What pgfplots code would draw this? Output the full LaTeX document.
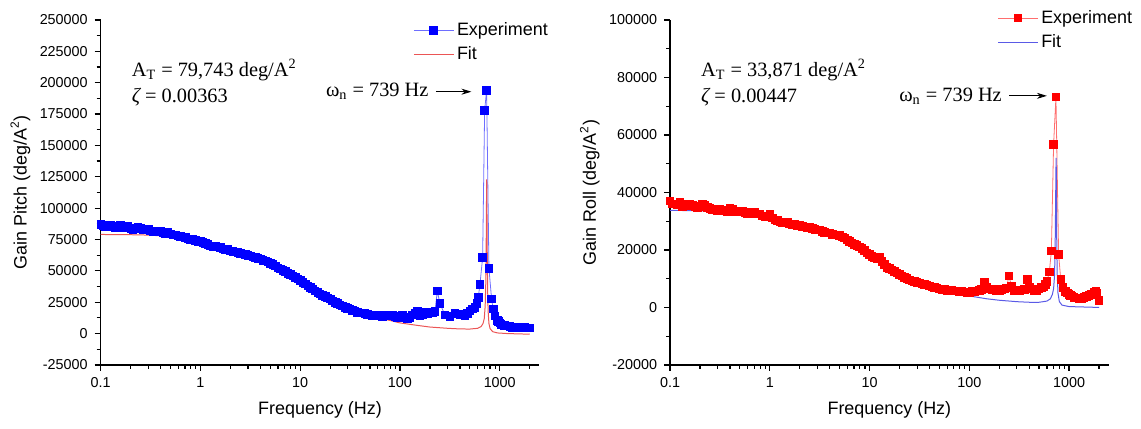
\documentclass[border=0pt]{standalone}
\usepackage{fontspec}
\setmainfont{Liberation Sans}
\newfontfamily\tnr{Liberation Serif}
\usepackage{pgfplots}
\pgfplotsset{compat=1.18}
\usetikzlibrary{arrows.meta}
\definecolor{expblue}{RGB}{0,0,255}
\definecolor{explineblue}{RGB}{110,110,255}
\definecolor{fitred}{RGB}{235,85,85}
\definecolor{expred}{RGB}{255,0,0}
\definecolor{explinered}{RGB}{255,110,110}
\definecolor{fitblue}{RGB}{90,90,230}

\begin{document}
\begin{tikzpicture}
\path (-50.5pt,-32pt) rectangle (520pt,183pt);

% ---------------- pitch ----------------
\begin{axis}[at={(0pt,0pt)},
  scale only axis, width=220pt, height=173pt,
  xmode=log, xmin=0.1, xmax=2500,
  xtick={0.1,1,10,100,1000},
  xticklabels={0.1,1,10,100,1000},
  minor xtick={0.2,0.3,0.4,0.5,0.6,0.7,0.8,0.9,2,3,4,5,6,7,8,9,20,30,40,50,60,70,80,90,200,300,400,500,600,700,800,900,2000},
  axis x line*=bottom, axis y line*=left,
  axis line style={line width=0.7pt},
  tick align=outside,
  major tick length=3pt, minor tick length=2pt,
  tick style={black, line width=0.6pt},
  minor y tick num=1, scaled y ticks=false,
  tick label style={font=\fontsize{7.2}{8}\selectfont},
  label style={font=\fontsize{9}{10}\selectfont},
  xlabel={Frequency (Hz)},
  xlabel style={at={(rel axis cs:0.5,-0.13)}, anchor=center},
  ylabel style={at={(rel axis cs:-0.183,0.5)}, anchor=center},
  legend style={draw=none, fill=none, anchor=north west,
    font=\fontsize{9}{10}\selectfont, row sep=1pt,
    nodes={inner sep=1.5pt}, at={(rel axis cs:0.698,1.015)}},
  legend cell align=left,
  legend image code/.code={\draw[mark repeat=2,mark phase=2,#1]
    plot coordinates {(0cm,0cm) (0.35cm,0cm) (0.7cm,0cm)};},
  ymin=-25000, ymax=250000,
  ytick={-25000,0,25000,50000,75000,100000,125000,150000,175000,200000,225000,250000},
  yticklabels={-25000,0,25000,50000,75000,100000,125000,150000,175000,200000,225000,250000},
  ylabel={Gain Pitch (deg/A\textsuperscript{2})},
]
\addplot[color=explineblue, line width=0.4pt, mark=square*, mark size=1.9pt,
  mark options={draw=expblue, fill=expblue}]
coordinates {
(0.1,87000) (0.106,86000) (0.112,85500) (0.119,86500) (0.126,86000)
(0.133,85000) (0.141,84500) (0.15,85500) (0.158,86500) (0.168,84500)
(0.178,85000) (0.188,85500) (0.2,84000) (0.211,83000) (0.224,83500)
(0.237,84500) (0.251,84000) (0.266,83000) (0.282,82500) (0.299,83500)
(0.316,82000) (0.335,81500) (0.355,81000) (0.376,82000) (0.398,81500)
(0.422,80500) (0.447,80000) (0.473,80500) (0.501,79500) (0.531,78500)
(0.562,78500) (0.596,78000) (0.631,77500) (0.668,77000) (0.708,76500)
(0.75,75500) (0.794,75000) (0.841,75500) (0.891,74500) (0.944,73500)
(1,73500) (1.06,72500) (1.12,72000) (1.19,71000) (1.26,70000)
(1.33,69000) (1.41,69500) (1.5,69000) (1.58,68500) (1.68,67500)
(1.78,67000) (1.88,67000) (2,66000) (2.11,65500) (2.24,65000)
(2.37,64500) (2.51,64000) (2.66,63500) (2.82,63000) (2.99,62500)
(3.16,62000) (3.35,61000) (3.55,60500) (3.76,60000) (3.98,59500)
(4.22,58500) (4.47,58000) (4.73,57000) (5.01,56000) (5.31,55000)
(5.62,54000) (5.96,52500) (6.31,51500) (6.68,50500) (7.08,49500)
(7.5,48000) (7.94,47000) (8.41,46000) (8.91,45000) (9.44,43500)
(10,42500) (10.6,41000) (11.2,39500) (11.9,38000) (12.6,37000)
(13.3,35500) (14.1,34000) (15,33000) (15.8,31500) (16.8,30500)
(17.8,29500) (18.8,28500) (20,27500) (21.1,26000) (22.4,25000)
(23.7,24000) (25.1,23000) (26.6,22000) (28.2,21000) (29.9,20000)
(31.6,19500) (33.5,18500) (35.5,18000) (37.6,17000) (39.8,16500)
(42.2,16500) (44.7,16000) (47.3,15500) (50.1,15000) (53.1,14500)
(56.2,14500) (59.6,15000) (63.1,14000) (66.8,13500) (70.8,14500)
(75,14000) (79.4,14000) (84.1,15000) (89.1,13500) (94.4,13000)
(100,14000) (106,14500) (112,12500) (119,12000) (126,13000)
(133,15000) (141,16000) (150,18000) (158,14500) (168,15500)
(178,17000) (188,16000) (200,16500) (211,17000) (224,17500)
(237,34000) (251,24000) (282,15000) (316,13500) (355,16000)
(398,15500) (447,14000) (473,16000) (501,18000) (531,19500)
(562,21000) (590,24000) (610,29000) (634,39400) (674,60600)
(706,177900) (739,193800) (780,51800) (829,27500) (860,19500)
(891,14000) (944,10500) (970,9500) (1000,8500) (1030,7500)
(1060,7000) (1120,6500) (1190,6000) (1260,5500) (1330,5000)
(1410,5000) (1500,4800) (1580,4500) (1680,5200) (1780,5000)
(1880,4500) (2000,4500)
};
\addlegendentry{Experiment}
\addplot[color=fitred, line width=0.5pt, mark=none]
coordinates {
(0.1,79000) (0.2,78800) (0.3,78500) (0.5,77500) (0.7,76000)
(1,74000) (1.5,71000) (2,68500) (3,64500) (5,57500) (7,51500)
(10,44000) (15,35000) (20,29000) (30,21500) (40,17500) (50,15000)
(70,11500) (100,8500) (150,6500) (200,5200) (300,4200) (400,3700)
(500,3600) (600,4200) (650,5500) (680,8000) (700,12000) (715,22000)
(725,40000) (732,70000) (737,105000) (741,123000) (745,100000)
(750,65000) (757,35000) (765,18000) (780,8000) (800,4000) (850,1500)
(950,500) (1200,0) (2000,-500)
};
\addlegendentry{Fit}
\node[font=\tnr\fontsize{10.2}{12}\selectfont, anchor=west, inner sep=0pt]
  at (rel axis cs:0.07,0.855) {A\textsubscript{T} = 79,743 deg/A\textsuperscript{2}};
\node[font=\tnr\fontsize{10.2}{12}\selectfont, anchor=west, inner sep=0pt]
  at (rel axis cs:0.07,0.777) {{\itshape ζ} = 0.00363};
\node[font=\tnr\fontsize{10.2}{12}\selectfont, anchor=east, inner sep=0pt]
  at (rel axis cs:0.748,0.792) {ω\textsubscript{n} = 739 Hz};
\draw[-{Stealth[length=5pt,width=3pt]}, line width=0.4pt]
  (rel axis cs:0.764,0.792) -- (rel axis cs:0.845,0.792);
\end{axis}

% ---------------- roll ----------------
\begin{axis}[at={(285.5pt,0pt)},
  scale only axis, width=220pt, height=173pt,
  xmode=log, xmin=0.1, xmax=2500,
  xtick={0.1,1,10,100,1000},
  xticklabels={0.1,1,10,100,1000},
  minor xtick={0.2,0.3,0.4,0.5,0.6,0.7,0.8,0.9,2,3,4,5,6,7,8,9,20,30,40,50,60,70,80,90,200,300,400,500,600,700,800,900,2000},
  axis x line*=bottom, axis y line*=left,
  axis line style={line width=0.7pt},
  tick align=outside,
  major tick length=3pt, minor tick length=2pt,
  tick style={black, line width=0.6pt},
  minor y tick num=1, scaled y ticks=false,
  tick label style={font=\fontsize{7.2}{8}\selectfont},
  label style={font=\fontsize{9}{10}\selectfont},
  xlabel={Frequency (Hz)},
  xlabel style={at={(rel axis cs:0.5,-0.13)}, anchor=center},
  ylabel style={at={(rel axis cs:-0.183,0.5)}, anchor=center},
  legend style={draw=none, fill=none, anchor=north west,
    font=\fontsize{9}{10}\selectfont, row sep=1pt,
    nodes={inner sep=1.5pt}, at={(rel axis cs:0.732,1.05)}},
  legend cell align=left,
  legend image code/.code={\draw[mark repeat=2,mark phase=2,#1]
    plot coordinates {(0cm,0cm) (0.35cm,0cm) (0.7cm,0cm)};},
  ymin=-20000, ymax=100000,
  ytick={-20000,0,20000,40000,60000,80000,100000},
  yticklabels={-20000,0,20000,40000,60000,80000,100000},
  ylabel={Gain Roll (deg/A\textsuperscript{2})},
]
\addplot[color=explinered, line width=0.4pt, mark=square*, mark size=1.9pt,
  mark options={draw=expred, fill=expred}]
coordinates {
(0.1,37100) (0.106,36000) (0.112,36000) (0.119,35800) (0.126,36500)
(0.133,35000) (0.141,35500) (0.15,36000) (0.158,35800) (0.168,35500)
(0.178,35000) (0.188,34800) (0.2,35200) (0.211,35800) (0.224,35500)
(0.237,34800) (0.251,34500) (0.266,34200) (0.282,34000) (0.299,33800)
(0.316,34200) (0.335,34000) (0.355,33800) (0.376,33500) (0.398,34500)
(0.422,34200) (0.447,33500) (0.473,33200) (0.501,33200) (0.531,33500)
(0.562,33000) (0.596,32800) (0.631,32800) (0.668,33000) (0.708,33200)
(0.75,32500) (0.794,32500) (0.841,31800) (0.891,31500) (0.944,31500)
(1,32500) (1.06,31200) (1.12,30500) (1.19,30200) (1.26,29800)
(1.33,29500) (1.41,29500) (1.5,29500) (1.58,29000) (1.68,28800)
(1.78,28800) (1.88,28500) (2,28500) (2.11,28200) (2.24,28000)
(2.37,27800) (2.51,27800) (2.66,27500) (2.82,27200) (2.99,27000)
(3.16,27000) (3.35,26500) (3.55,26200) (3.76,26000) (3.98,26000)
(4.22,25500) (4.47,25200) (4.73,25200) (5.01,25000) (5.31,24500)
(5.62,24200) (5.96,23500) (6.31,23000) (6.68,22500) (7.08,22000)
(7.5,21500) (7.94,21000) (8.41,20500) (8.91,19800) (9.44,19000)
(10,18500) (10.6,17800) (11.2,17200) (11.9,17000) (12.6,17500)
(13.3,16000) (14.1,15000) (15,14000) (15.8,13500) (16.8,13000)
(17.8,12500) (18.8,12000) (20,11500) (21.1,11000) (22.4,10500)
(23.7,10000) (25.1,9600) (26.6,9300) (28.2,9000) (29.9,8800)
(31.6,8500) (33.5,8200) (35.5,8000) (37.6,7800) (39.8,7500)
(42.2,7200) (44.7,7000) (47.3,6800) (50.1,6500) (53.1,6300)
(56.2,6200) (59.6,6000) (63.1,6000) (66.8,5900) (70.8,5800)
(75,5700) (79.4,5600) (84.1,5500) (89.1,5400) (94.4,5300)
(100,5300) (106,5500) (112,5600) (119,5800) (126,6000)
(133,6200) (141,8800) (150,7000) (158,6500) (168,6300)
(178,6200) (188,6000) (200,6000) (211,6200) (224,6500)
(237,6800) (249,11000) (265,7500) (282,5800) (316,6000)
(355,6200) (380,9800) (398,7000) (420,6500) (447,5800)
(473,6000) (501,6500) (531,7000) (562,7200) (580,8000)
(600,9000) (635,12400) (665,19650) (700,56650) (739,73200)
(786,18500) (825,9800) (870,7000) (920,5500) (960,5000)
(1000,4500) (1030,4200) (1060,4000) (1120,3500) (1190,3300)
(1260,3200) (1330,3000) (1410,3500) (1500,3800) (1580,4200)
(1680,4500) (1780,5200) (1850,5500) (1900,5000) (2000,2500)
};
\addlegendentry{Experiment}
\addplot[color=fitblue, line width=0.5pt, mark=none]
coordinates {
(0.1,33800) (0.2,33600) (0.3,33400) (0.5,33000) (0.7,32500)
(1,31800) (1.5,30600) (2,29600) (3,28000) (5,25500) (7,23300)
(10,20000) (15,15600) (20,12800) (30,9400) (40,7600) (50,6500)
(70,5000) (100,4000) (150,3000) (200,2500) (300,2000) (400,1800)
(500,1800) (600,2200) (650,3000) (680,4500) (700,6500) (715,11000)
(725,20000) (733,35000) (739,48000) (743,52000) (747,42000)
(752,25000) (760,12000) (775,5000) (800,2000) (850,800)
(1000,300) (2000,0)
};
\addlegendentry{Fit}
\node[font=\tnr\fontsize{10.2}{12}\selectfont, anchor=west, inner sep=0pt]
  at (rel axis cs:0.07,0.855) {A\textsubscript{T} = 33,871 deg/A\textsuperscript{2}};
\node[font=\tnr\fontsize{10.2}{12}\selectfont, anchor=west, inner sep=0pt]
  at (rel axis cs:0.07,0.777) {{\itshape ζ} = 0.00447};
\node[font=\tnr\fontsize{10.2}{12}\selectfont, anchor=east, inner sep=0pt]
  at (rel axis cs:0.757,0.780) {ω\textsubscript{n} = 739 Hz};
\draw[-{Stealth[length=5pt,width=3pt]}, line width=0.4pt]
  (rel axis cs:0.773,0.780) -- (rel axis cs:0.859,0.780);
\end{axis}
\end{tikzpicture}
\end{document}
